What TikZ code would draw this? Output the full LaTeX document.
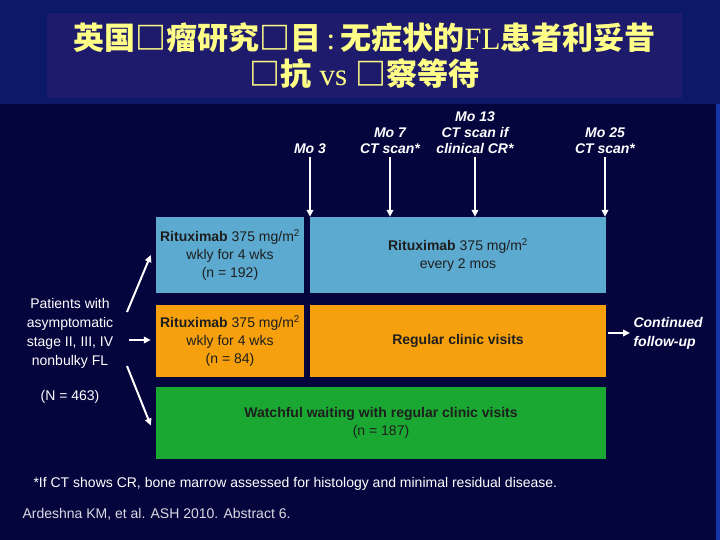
\documentclass[tikz,border=0pt]{standalone}
\usepackage{fontspec}
\setmainfont{Liberation Sans}
\newfontfamily\cjk{Noto Sans CJK SC}
\newfontfamily\tms{Liberation Serif}
\usetikzlibrary{positioning,calc,arrows.meta}
\definecolor{bandblue}{RGB}{12,24,104}
\definecolor{titleblue}{RGB}{30,27,108}
\definecolor{slideblue}{RGB}{5,5,62}
\definecolor{edgeblue}{RGB}{22,52,170}
\definecolor{armblue}{RGB}{92,170,208}
\definecolor{armorange}{RGB}{245,160,12}
\definecolor{armgreen}{RGB}{26,168,50}
\definecolor{titleyellow}{RGB}{255,255,135}
\definecolor{boxtext}{RGB}{30,30,30}
\tikzset{ARROW/.style={line width=2pt, white, -{Triangle[width=6.5pt,length=7pt]}}}
\tikzset{ARM/.style={rectangle, inner sep=0pt, align=center, text=boxtext, font=\fontsize{14}{18}\selectfont}}
\tikzset{MONTH/.style={white, align=center, anchor=south, font=\fontsize{14}{16}\selectfont\bfseries\itshape}}

\begin{document}
\begin{tikzpicture}[x=1pt,y=-1pt]
    % slide background
    \fill[bandblue] (0,0) rectangle (720,540);
    \fill[slideblue] (0,104) rectangle (716,540);
    \fill[edgeblue] (716,104) rectangle (720,540);
    \useasboundingbox (0,0) rectangle (720,540);

    \node[fill=titleblue, minimum width=635pt, minimum height=85pt, inner sep=0pt] (n_titlebox) at (364.5,55.5) {};
    \node[titleyellow, align=center, font=\fontsize{31}{36}\selectfont] (n_title) at (n_titlebox.center)
        {{\cjk\bfseries 英国□瘤研究□目}{\tms\,:\,}{\cjk\bfseries 无症状的}{\tms FL}{\cjk\bfseries 患者利妥昔}\\
         {\cjk\bfseries □抗} {\tms vs} {\cjk\bfseries □察等待}};

    % treatment arms
    \node[ARM, fill=armblue, minimum width=148pt, minimum height=76pt] (n_rind) at (230,255)
        {\textbf{Rituximab} 375 mg/m\textsuperscript{2}\\ wkly for 4 wks\\ (n = 192)};
    \node[ARM, fill=armblue, minimum width=296pt, minimum height=76pt] (n_rmain) at (458,255)
        {\textbf{Rituximab} 375 mg/m\textsuperscript{2}\\ every 2 mos};
    \node[ARM, fill=armorange, minimum width=148pt, minimum height=72pt] (n_oind) at (230,341)
        {\textbf{Rituximab} 375 mg/m\textsuperscript{2}\\ wkly for 4 wks\\ (n = 84)};
    \node[ARM, fill=armorange, minimum width=296pt, minimum height=72pt] (n_ovisits) at (458,341)
        {\textbf{Regular clinic visits}};
    \node[ARM, fill=armgreen, minimum width=450pt, minimum height=72pt] (n_watch) at (381,422.5)
        {\textbf{Watchful waiting with regular clinic visits}\\ (n = 187)};

    % time points
    \node[MONTH] (n_mo3) at (310,157) {Mo 3};
    \node[MONTH] (n_mo7) at (390,157) {Mo 7\\ CT scan*};
    \node[MONTH] (n_mo13) at (475,157) {Mo 13\\ CT scan if\\ clinical CR*};
    \node[MONTH] (n_mo25) at (605,157) {Mo 25\\ CT scan*};
    \foreach \m in {mo3,mo7,mo13,mo25}
        \draw[ARROW] (n_\m.south) -- (n_\m.south |- n_rmain.north);

    % patients and randomisation
    \node[white, align=center, font=\fontsize{14}{19}\selectfont] (n_patients) at (70,333)
        {Patients with\\ asymptomatic\\ stage II, III, IV\\ nonbulky FL};
    \node[white, font=\fontsize{14}{16}\selectfont] (n_total) at (70,397) {(N = 463)};
    \coordinate (up_start) at (127,312);
    \coordinate (mid_start) at (129,340);
    \coordinate (low_start) at (127,366);
    \draw[ARROW] (up_start) -- ($(n_rind.west)+(-5,0)$);
    \draw[ARROW] (mid_start) -- ($(mid_start-|n_oind.west)+(-5,0)$);
    \draw[ARROW] (low_start) -- ($(n_watch.west)+(-5,3)$);

    \node[white, align=left, anchor=west, font=\fontsize{14}{19}\selectfont\bfseries\itshape] (n_follow) at (630,333)
        {Continued\\ follow-up};
    \draw[ARROW] ($(n_ovisits.east)+(2,-8)$) -- (n_follow.west);

    % footnotes
    \node[white, anchor=west, font=\fontsize{14}{16}\selectfont] (n_note) at (30,484)
        {*If CT shows CR, bone marrow assessed for histology and minimal residual disease.};
    \node[white!85!slideblue, anchor=west, font=\fontsize{14}{16}\selectfont] (n_ref) at (19,514)
        {Ardeshna KM, et al. ASH 2010. Abstract 6.};
\end{tikzpicture}
\end{document}
